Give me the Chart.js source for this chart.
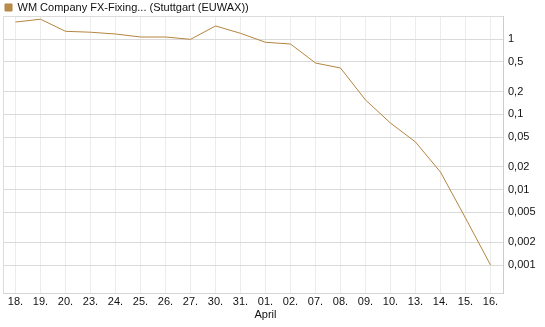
<!DOCTYPE html>
<html>
<head>
<meta charset="utf-8">
<script src="https://cdn.jsdelivr.net/npm/chart.js@4.4.1/dist/chart.umd.min.js"></script>
<style>
  html, body { margin: 0; padding: 0; background: #fff; }
  #wrap { width: 545px; height: 327px; }
</style>
</head>
<body>
<div id="wrap"><canvas id="chart" width="545" height="327"></canvas></div>
<script>
// dados
const labels = ['18.', '19.', '20.', '23.', '24.', '25.', '26.', '27.', '30.', '31.',
                '01.', '02.', '07.', '08.', '09.', '10.', '13.', '14.', '15.', '16.'];
const prices = [1.68, 1.83, 1.265, 1.23, 1.165, 1.063, 1.063, 0.99, 1.49, 1.19,
                0.904, 0.858, 0.48, 0.412, 0.155, 0.0766, 0.0429, 0.0171, 0.0042, 0.001];
const yTicks = [1, 0.5, 0.2, 0.1, 0.05, 0.02, 0.01, 0.005, 0.002, 0.001];
const monthLabel = { '01.': 'April' };

const lineColor = '#b5853f';

// moldura da área do gráfico
const frame = {
    id: 'frame',
    beforeDatasetsDraw(chart) {
        const { ctx, chartArea: a } = chart;
        ctx.save();
        ctx.strokeStyle = '#dcdcdc';
        ctx.lineWidth = 1;
        ctx.beginPath();
        ctx.moveTo(a.left + 0.5, a.bottom);
        ctx.lineTo(a.left + 0.5, a.top + 0.5);
        ctx.lineTo(a.right, a.top + 0.5);
        ctx.stroke();
        ctx.restore();
    }
};

Chart.defaults.font.family = '"Liberation Sans", Arial, sans-serif';
Chart.defaults.font.size = 11;
Chart.defaults.color = '#111';

new Chart(document.getElementById('chart'), {
    type: 'line',
    data: {
        labels: labels,
        datasets: [{
            label: 'WM Company FX-Fixing... (Stuttgart (EUWAX))',
            data: prices,
            borderColor: lineColor,
            backgroundColor: '#b98c4c',
            borderWidth: 1,
            pointRadius: 0,
            tension: 0
        }]
    },
    options: {
        responsive: false,
        animation: false,
        layout: { padding: { left: 3, top: 0, right: 0, bottom: 0 } },
        plugins: {
            legend: {
                align: 'start',
                maxHeight: 16,
                labels: { boxWidth: 7, boxHeight: 7, padding: 2, color: '#111' }
            },
            tooltip: { enabled: false }
        },
        scales: {
            x: {
                offset: true,
                grid: { offset: false, color: '#ececec', drawTicks: false },
                border: { color: '#d4d4d4' },
                ticks: {
                    autoSkip: false, maxRotation: 0, padding: 2,
                    callback: function (v, i) {
                        const l = labels[i];
                        return monthLabel[l] ? [l, monthLabel[l]] : l;
                    }
                },
                afterFit: s => { s.height = 34; }
            },
            y: {
                type: 'logarithmic',
                position: 'right',
                min: 0.000425,
                max: 2.02,
                grid: { color: '#dadada', drawTicks: false },
                border: { color: '#cccccc' },
                afterBuildTicks: s => { s.ticks = yTicks.map(v => ({ value: v })); },
                ticks: {
                    padding: 5,
                    callback: v => String(v).replace('.', ',')
                },
                afterFit: s => { s.width = 42; }
            }
        }
    },
    plugins: [frame]
});
</script>
</body>
</html>
